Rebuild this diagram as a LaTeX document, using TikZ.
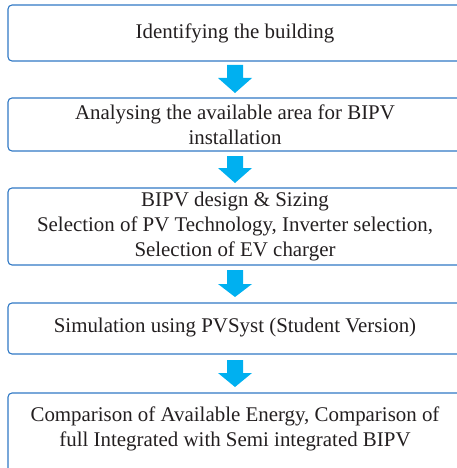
\documentclass[tikz,border=0pt]{standalone}
\usepackage{fontspec}
\setmainfont{Liberation Serif}
\definecolor{boxblue}{HTML}{2F78C4}
\definecolor{arrowcyan}{HTML}{00B0F0}
\definecolor{txt}{HTML}{231F20}
\begin{document}
\begin{tikzpicture}[x=1pt,y=-1pt,
  stepbox/.style={draw=boxblue,line width=1.1pt,rounded corners=4pt},
  steptext/.style={text=txt,align=center,font=\fontsize{20.9}{25}\selectfont,inner sep=0pt},
  flowarrow/.style={fill=arrowcyan,draw=none}]
\useasboundingbox (0,0) rectangle (457,468);
\clip (0,0) rectangle (457,468);
% boxes
\draw[stepbox] (8,5) rectangle (462,61);
\node[steptext] (t1) at (235,33) {Identifying the building};
\draw[stepbox] (8,98) rectangle (462,151);
\node[steptext] (t2) at (235,125) {Analysing the available area for BIPV\\installation};
\draw[stepbox] (8,188) rectangle (462,265);
\node[steptext] (t3) at (235,227) {BIPV design \& Sizing\\Selection of PV Technology, Inverter selection,\\Selection of EV charger};
\draw[stepbox] (8,303) rectangle (462,354);
\node[steptext] (t4) at (235,328) {Simulation using PVSyst (Student Version)};
\draw[stepbox] (8,393) rectangle (462,478);
\node[steptext] (t5) at (235,429) {Comparison of Available Energy, Comparison of\\full Integrated with Semi integrated BIPV};
% arrows
\foreach \top/\mid/\tip in {65/78/93, 156/168/183, 270/284/297, 360/373/387}{
  \fill[flowarrow] (227,\top) -- (243,\top) -- (243,\mid) -- (252,\mid) -- (235,\tip) -- (218,\mid) -- (227,\mid) -- cycle;
}
\end{tikzpicture}
\end{document}
